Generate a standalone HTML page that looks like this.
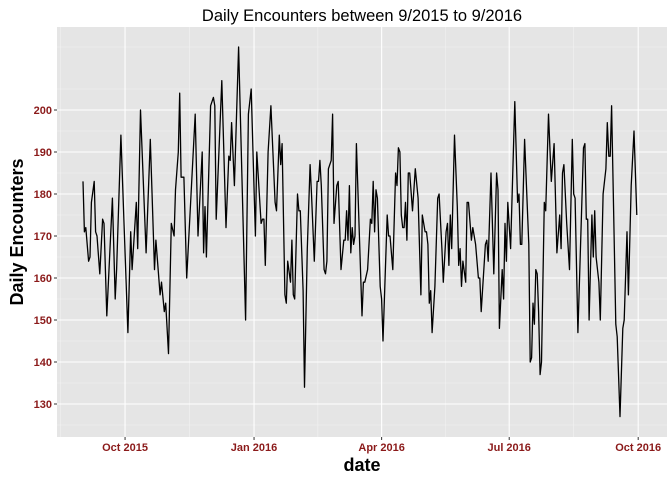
<!DOCTYPE html>
<html><head><meta charset="utf-8"><style>
html,body{margin:0;padding:0;background:#fff;}
svg{display:block;font-family:"Liberation Sans",sans-serif;}
</style></head><body>
<svg id="chart" width="672" height="480">
<rect x="0" y="0" width="672" height="480" fill="#fff"/>
<text x="362" y="21" text-anchor="middle" font-size="16.5" fill="#000">Daily Encounters between 9/2015 to 9/2016</text>
<rect id="panel" x="57" y="27" width="610" height="410" fill="#e5e5e5"/>
<g id="grid"></g>
<g id="series"></g>
<g id="axes"></g>
<text x="362" y="471" text-anchor="middle" font-size="18" font-weight="bold" fill="#000">date</text>
<text transform="translate(23,232) rotate(-90)" text-anchor="middle" font-size="18" font-weight="bold" fill="#000">Daily Encounters</text>
</svg>
<script>
// day offsets from 2015-09-01 and daily encounter values (turning points)
const dayOffsets = [0,1,2,4,5,6,8,9,10,12,14,15,17,21,23,24,27,32,34,35,38,39,41,45,48,51,52,55,56,58,59,61,63,65,66,68,69,70,72,74,80,82,85,86,87,88,91,93,94,95,99,102,104,105,106,108,111,116,118,120,123,124,127,128,129,130,132,134,137,138,140,141,142,144,145,146,148,149,150,151,153,154,155,157,158,160,162,163,165,167,168,169,170,172,173,174,175,177,178,179,181,182,184,186,187,188,189,190,191,192,193,194,195,199,200,201,203,205,206,207,208,209,210,212,213,214,217,218,219,221,223,224,225,226,227,228,229,230,231,232,233,235,237,239,241,242,244,245,246,247,248,249,251,253,254,256,257,259,260,261,262,263,265,267,268,269,270,271,273,274,275,277,278,280,282,283,284,287,288,289,291,293,295,296,297,299,300,301,302,303,305,308,310,311,312,313,315,318,319,320,321,322,323,324,325,326,327,329,330,332,334,336,338,340,341,342,343,345,347,349,350,351,353,355,357,358,359,360,361,363,364,365,366,368,369,371,373,374,375,376,377,380,381,383,385,386,388,389,391,393,395];
const encounters = [183,171,172,164,165,178,183,171,170,161,174,173,151,179,155,162,194,147,171,162,178,167,200,166,193,162,169,156,159,152,154,142,173,170,181,190,204,184,184,160,199,170,190,166,177,165,201,203,201,174,207,172,189,188,197,182,215,150,199,205,170,190,173,174,174,163,190,201,178,176,194,187,192,156,154,164,159,169,156,155,180,176,176,157,134,167,187,180,164,183,183,188,182,162,161,164,186,188,199,173,182,183,162,169,169,176,169,182,166,172,168,170,192,151,159,159,162,174,173,183,171,181,179,158,155,145,175,170,170,162,185,182,191,190,175,172,172,178,169,185,185,176,186,179,156,175,171,171,168,154,157,147,158,179,180,167,159,171,173,163,175,167,194,177,163,167,158,164,159,178,178,169,172,168,160,160,152,168,169,164,185,161,185,181,148,162,155,173,164,178,167,202,178,180,168,168,193,168,140,141,154,149,162,161,152,137,140,178,176,199,183,192,166,175,167,185,187,173,162,193,180,179,147,169,191,192,174,174,150,175,165,176,165,159,150,180,186,197,189,189,201,149,146,127,148,150,171,156,182,195,175];
const yTicks = [130,140,150,160,170,180,190,200];
const yMinor = [125,135,145,155,165,175,185,195,205,215];
const xTickDays = [30,122,213,304,396];
const xTickLabels = ["Oct 2015","Jan 2016","Apr 2016","Jul 2016","Oct 2016"];
const xMinorDays = [-16,76,167.5,258.5,350];

const NS = "http://www.w3.org/2000/svg";
function xs(d){ return 83 + d*1.402; }
function ys(v){ return 110 + (200 - v)*4.2; }
function mk(tag, attrs, parent){
  const e = document.createElementNS(NS, tag);
  for (const k in attrs) e.setAttribute(k, attrs[k]);
  parent.appendChild(e); return e;
}
const grid = document.getElementById('grid');
const axes = document.getElementById('axes');
const series = document.getElementById('series');
const L=57,R=667,T=27,B=437;
yMinor.forEach(v=>{
  const y=ys(v); if(y<T||y>B) return;
  const l=mk('line',{x1:L,x2:R,y1:y,y2:y,stroke:'#f2f2f2','stroke-width':0.6},grid);
  
  
});
xMinorDays.forEach(d=>{
  const x=xs(d); if(x<L||x>R) return;
  const l=mk('line',{x1:x,x2:x,y1:T,y2:B,stroke:'#f2f2f2','stroke-width':0.6},grid);
  
  
});
yTicks.forEach(v=>{
  const y=ys(v);
  const l=mk('line',{x1:L,x2:R,y1:y,y2:y,stroke:'#fff','stroke-width':1.1},grid);
  
  
  const t=mk('line',{x1:L-3,x2:L,y1:y,y2:y,stroke:'#333','stroke-width':1},axes);
  
  
  const tx=mk('text',{x:L-5,y:y+4,'text-anchor':'end','font-size':11,'font-weight':'bold',fill:'#8b1a1a'},axes);
  tx.textContent=v;
  
  
});
xTickDays.forEach((d,i)=>{
  const x=xs(d);
  const l=mk('line',{x1:x,x2:x,y1:T,y2:B,stroke:'#fff','stroke-width':1.1},grid);
  
  
  const t=mk('line',{x1:x,x2:x,y1:B,y2:B+3,stroke:'#333','stroke-width':1},axes);
  
  
  const tx=mk('text',{x:x,y:B+14,'text-anchor':'middle','font-size':11,'font-weight':'bold',fill:'#8b1a1a'},axes);
  tx.textContent=xTickLabels[i];
  
  
});
const pts = dayOffsets.map((d,i)=>xs(d).toFixed(1)+','+ys(encounters[i]).toFixed(1)).join(' ');
const line = mk('polyline',{points:pts,fill:'none',stroke:'#000','stroke-width':1.3,'stroke-linejoin':'round'},series);


</script>
</body></html>
